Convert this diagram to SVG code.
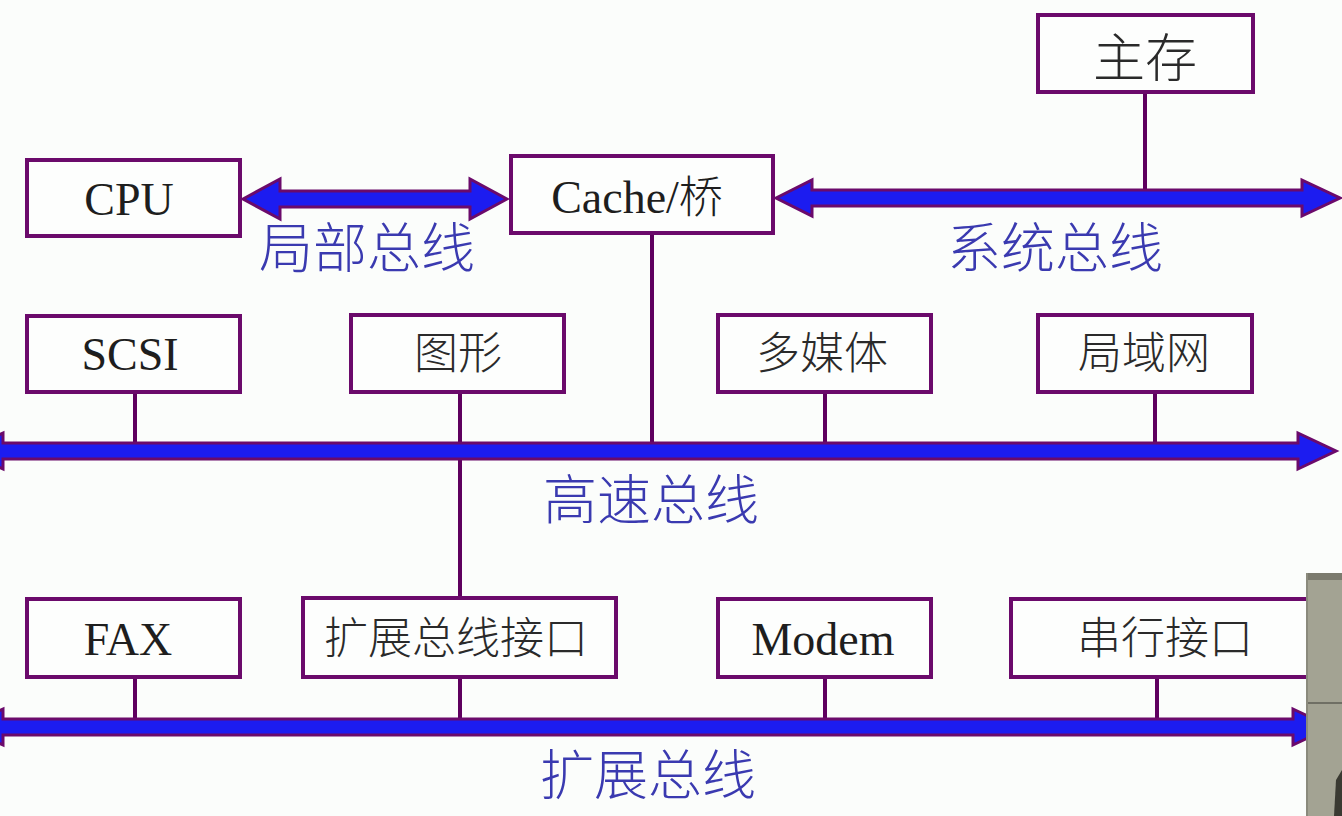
<svg xmlns="http://www.w3.org/2000/svg" width="1342" height="816" viewBox="0 0 1342 816">
<style>
.box{fill:#fdfefd;stroke:#6b0a6b;stroke-width:4}
.t{font-family:"Liberation Serif","Noto Sans CJK SC",serif;font-size:46px;fill:#1e1e1e;text-anchor:middle}
.c{font-family:"Noto Sans CJK SC",sans-serif;font-size:44px;fill:#2a2a2a;text-anchor:middle;font-weight:300}
.cj{font-family:"Noto Sans CJK SC",sans-serif;font-size:44px;font-weight:300}
.lbl{font-family:"Noto Sans CJK SC",sans-serif;font-size:54px;fill:#3a3ab0;text-anchor:middle;font-weight:300}
.bus{fill:#1c1cf0;stroke:#6b0a6b;stroke-width:3;stroke-linejoin:miter}
.ln{stroke:#5e005e;stroke-width:4;fill:none}
</style>
<rect width="1342" height="816" fill="#fbfdfb"/>
<g id="connectors">
<line class="ln" x1="1145" y1="93" x2="1145" y2="192"/>
<line class="ln" x1="652" y1="233" x2="652" y2="445"/>
<line class="ln" x1="135" y1="392" x2="135" y2="445"/>
<line class="ln" x1="460" y1="392" x2="460" y2="598"/>
<line class="ln" x1="825" y1="392" x2="825" y2="445"/>
<line class="ln" x1="1155" y1="392" x2="1155" y2="445"/>
<line class="ln" x1="135" y1="677" x2="135" y2="721"/>
<line class="ln" x1="460" y1="677" x2="460" y2="721"/>
<line class="ln" x1="825" y1="677" x2="825" y2="721"/>
<line class="ln" x1="1157" y1="677" x2="1157" y2="721"/>
<path id="local-bus" class="bus" d="M243,199 L280,179 L280,191 L470,191 L470,179 L507,199 L470,219 L470,207 L280,207 L280,219 Z"/>
<path id="system-bus" class="bus" d="M776,198 L812,180 L812,190 L1302,190 L1302,180 L1340,198 L1302,216 L1302,206 L812,206 L812,216 Z"/>
<path id="high-speed-bus" class="bus" d="M-35,451 L3,433 L3,443 L1298,443 L1298,433 L1336,451 L1298,469 L1298,459 L3,459 L3,469 Z"/>
<path id="expansion-bus" class="bus" d="M-35,727 L3,709 L3,719 L1293,719 L1293,709 L1331,727 L1293,745 L1293,735 L3,735 L3,745 Z"/>
</g>
<g id="labels">
<text class="lbl" x="367" y="268">局部总线</text>
<text class="lbl" x="1055" y="268">系统总线</text>
<text class="lbl" x="651" y="520">高速总线</text>
<text class="lbl" x="648" y="795">扩展总线</text>
</g>
<g id="main-memory"><rect class="box" x="1038" y="15" width="215" height="77"/><text class="c" x="1145" y="77" style="font-size:52px">主存</text></g>
<g id="cpu"><rect class="box" x="27" y="160" width="213" height="76"/><text class="t" x="129" y="215">CPU</text></g>
<g id="cache-bridge"><rect class="box" x="511" y="156" width="262" height="77"/><text class="t" x="637" y="213">Cache/<tspan class="cj">桥</tspan></text></g>
<g id="scsi"><rect class="box" x="27" y="316" width="213" height="76"/><text class="t" x="130" y="370">SCSI</text></g>
<g id="graphics"><rect class="box" x="351" y="315" width="213" height="77"/><text class="c" x="458" y="369">图形</text></g>
<g id="multimedia"><rect class="box" x="718" y="315" width="213" height="77"/><text class="c" x="822" y="369">多媒体</text></g>
<g id="lan"><rect class="box" x="1038" y="315" width="214" height="77"/><text class="c" x="1144" y="369">局域网</text></g>
<g id="fax"><rect class="box" x="27" y="599" width="213" height="78"/><text class="t" x="128" y="655">FAX</text></g>
<g id="ext-bus-interface"><rect class="box" x="303" y="598" width="313" height="79"/><text class="c" x="456" y="654">扩展总线接口</text></g>
<g id="modem"><rect class="box" x="718" y="599" width="213" height="78"/><text class="t" x="823" y="655">Modem</text></g>
<g id="serial"><rect class="box" x="1011" y="599" width="320" height="78"/><text class="c" x="1165" y="654">串行接口</text></g>
<g id="photo-edge">
<rect x="1307" y="573" width="40" height="250" fill="#a3a393"/>
<rect x="1307" y="573" width="40" height="7" fill="#7b7b6e"/>
<line x1="1307" y1="703" x2="1342" y2="703" stroke="#6f6f64" stroke-width="2"/>
<line x1="1307" y1="573" x2="1307" y2="816" stroke="#8a8a7c" stroke-width="2"/>
<path d="M1336,780 L1342,770 L1342,816 L1334,816 Z" fill="#3a3a32"/>
</g>
</svg>
